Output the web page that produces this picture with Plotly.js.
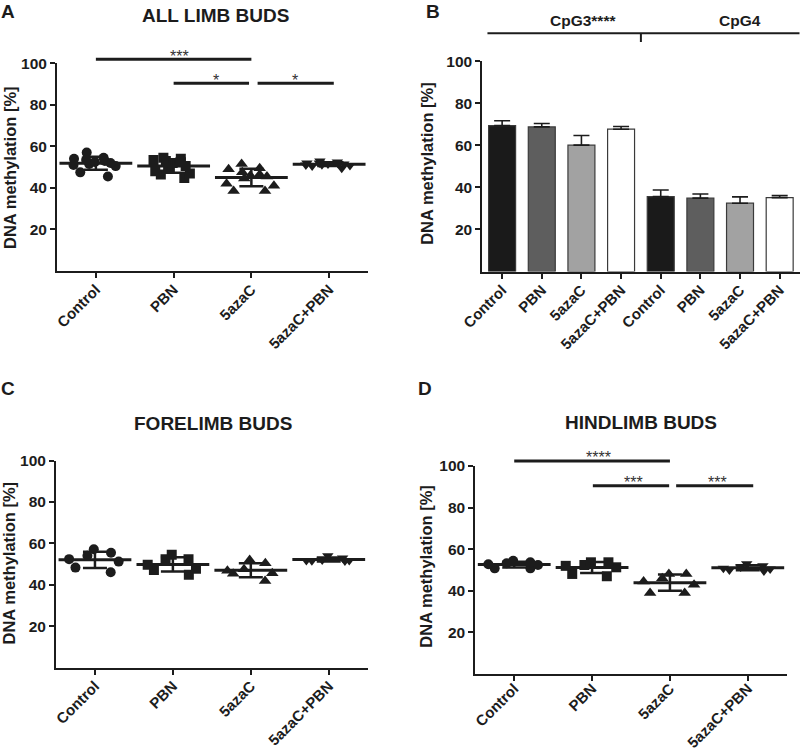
<!DOCTYPE html>
<html><head><meta charset="utf-8">
<script src="https://cdn.plot.ly/plotly-3.0.1.min.js"></script>
<style>html,body{margin:0;padding:0;background:#fff;} #chart{width:800px;height:753px;}</style>
</head><body><div id="chart"></div>
<script>
// ---------- DATA ----------
const groups = ['Control', 'PBN', '5azaC', '5azaC+PBN'];

// Panel A: all limb buds (DNA methylation %)
const allControl  = [57.0, 54.5, 54.0, 53.5, 53.0, 52.5, 52.0, 51.5, 51.0, 50.5, 47.5, 45.5];
const allPBN      = [54.5, 54.0, 53.5, 53.0, 52.5, 52.0, 50.5, 50.0, 48.0, 47.0, 46.5, 44.8];
const all5azaC    = [51.5, 49.5, 49.0, 47.5, 46.5, 46.0, 45.5, 44.5, 42.0, 41.0, 38.5, 38.5];
const all5azaCPBN = [53.0, 52.5, 52.0, 52.0, 51.8, 51.5, 51.5, 51.2, 51.0, 50.8, 50.5, 49.5];

// Panel B: CpG3 / CpG4 means and upper error
const cpgLabels = ['Control', 'PBN', '5azaC', '5azaC+PBN', 'Control', 'PBN', '5azaC', '5azaC+PBN'];
const cpgMean   = [69.4, 68.8, 60.1, 67.7, 35.6, 34.9, 32.5, 35.1];
const cpgErr    = [2.3, 1.6, 4.6, 1.3, 3.2, 2.0, 3.0, 1.0];

// Panel C: forelimb buds
const foreControl  = [57.2, 55.5, 54.0, 52.4, 51.2, 48.3, 46.1];
const forePBN      = [54.5, 52.4, 52.4, 49.7, 47.7, 47.2, 44.9];
const fore5azaC    = [52.0, 50.4, 47.5, 46.8, 45.6, 45.3, 41.8];
const fore5azaCPBN = [54.0, 53.0, 52.0, 51.8, 51.7, 51.6, 51.5];

// Panel D: hindlimb buds
const hindControl  = [54.4, 53.7, 53.2, 52.8, 52.4, 50.8, 50.8];
const hindPBN      = [53.7, 53.7, 52.4, 52.0, 51.3, 48.1, 47.0];
const hind5azaC    = [48.1, 48.1, 46.0, 44.5, 42.9, 38.9, 38.9];
const hind5azaCPBN = [53.0, 52.0, 51.5, 50.8, 50.5, 50.0, 49.5];

const yTicks = [20, 40, 60, 80, 100];

// ---------- HELPERS ----------
const FONT = 'Liberation Sans, Arial, Helvetica, sans-serif';
const INK = '#1c1c1c';
const W = 800, H = 753;
const px = v => v / W;
const py = v => 1 - v / H;

function mean(a) { return a.reduce((s, v) => s + v, 0) / a.length; }
function sd(a) { const m = mean(a); return Math.sqrt(a.reduce((s, v) => s + (v - m) * (v - m), 0) / (a.length - 1)); }

const symbols = ['circle', 'square', 'triangle-up', 'triangle-down'];
const symSize = [10, 10, 11, 10];

function scatterPanel(sets, xa, ya) {
  const traces = [];
  sets.forEach((vals, i) => {
    traces.push({
      type: 'box', x0: i, y: vals, xaxis: xa, yaxis: ya,
      boxpoints: 'all', jitter: 1, pointpos: 0, width: 0.8,
      fillcolor: 'rgba(0,0,0,0)', line: {width: 0, color: 'rgba(0,0,0,0)'},
      marker: {symbol: symbols[i], size: symSize[i], color: INK},
      showlegend: false, hoverinfo: 'y'
    });
  });
  traces.push({
    type: 'scatter', mode: 'markers', xaxis: xa, yaxis: ya,
    x: sets.map((_, i) => i), y: sets.map(mean),
    marker: {symbol: 'line-ew', size: 52, color: INK, line: {width: 3, color: INK}},
    error_y: {type: 'data', array: sets.map(sd), visible: true, width: 12, thickness: 2.5, color: INK},
    showlegend: false, hoverinfo: 'y'
  });
  return traces;
}

const data = [];
data.push(...scatterPanel([allControl, allPBN, all5azaC, all5azaCPBN], 'x', 'y'));
data.push({
  type: 'bar', x: cpgMean.map((_, i) => i), y: cpgMean, xaxis: 'x2', yaxis: 'y2',
  width: 0.68,
  marker: {color: ['#1a1a1a', '#5e5e5e', '#a2a2a2', '#ffffff', '#1a1a1a', '#5e5e5e', '#a2a2a2', '#ffffff'],
           line: {color: '#3a3a3a', width: 1.2}},
  error_y: {type: 'data', symmetric: false, array: cpgErr, arrayminus: cpgErr.map(() => 0),
            visible: true, width: 8, thickness: 1.6, color: INK},
  showlegend: false
});
data.push(...scatterPanel([foreControl, forePBN, fore5azaC, fore5azaCPBN], 'x3', 'y3'));
data.push(...scatterPanel([hindControl, hindPBN, hind5azaC, hind5azaCPBN], 'x4', 'y4'));

function xAxis(domain, anchor, vals, text, range, standoff) {
  return {
    domain: domain, anchor: anchor, range: range, tickmode: 'array', tickvals: vals, ticktext: text,
    tickangle: -45, showline: true, linewidth: 2, linecolor: INK, ticks: 'outside', ticklen: 5,
    tickwidth: 2, tickcolor: INK, showgrid: false, zeroline: false, ticklabelstandoff: standoff,
    tickfont: {family: FONT, size: 15, color: INK, weight: 'bold'}, fixedrange: true
  };
}
function yAxis(domain, anchor) {
  return {
    domain: domain, anchor: anchor, range: [0, 100], tickmode: 'array', tickvals: yTicks,
    showline: true, linewidth: 2, linecolor: INK, ticks: 'outside', ticklen: 5, tickwidth: 2,
    tickcolor: INK, showgrid: false, zeroline: false,
    tickfont: {family: FONT, size: 15.5, color: INK, weight: 'bold'}, fixedrange: true
  };
}

const gIdx = groups.map((_, i) => i);
const layout = {
  width: W, height: H, margin: {l: 0, r: 0, t: 0, b: 0},
  paper_bgcolor: '#fff', plot_bgcolor: 'rgba(0,0,0,0)', showlegend: false,
  font: {family: FONT, color: INK},
  xaxis:  xAxis([px(57), px(368)], 'y', gIdx, groups, [-0.5, 3.5], -3),
  yaxis:  yAxis([py(271), py(63.3)], 'x'),
  xaxis2: xAxis([px(482.3), px(799.5)], 'y2', cpgLabels.map((_, i) => i), cpgLabels, [-0.5, 7.5], -3),
  yaxis2: yAxis([py(271.5), py(61.3)], 'x2'),
  xaxis3: xAxis([px(56), px(367.7)], 'y3', gIdx, groups, [-0.5, 3.5], -3),
  yaxis3: yAxis([py(667.5), py(460.7)], 'x3'),
  xaxis4: xAxis([px(475.3), px(786.7)], 'y4', gIdx, groups, [-0.5, 3.5], -7),
  yaxis4: yAxis([py(674), py(466)], 'x4'),
  shapes: [],
  annotations: []
};

function sigBar(xr, yr, x0, x1, yd) {
  layout.shapes.push({type: 'line', xref: xr, yref: yr + ' domain', x0: x0, x1: x1, y0: yd, y1: yd,
                      line: {color: INK, width: 3}});
}
function stars(xr, yr, x, yd, txt, size) {
  layout.annotations.push({xref: xr, yref: yr + ' domain', x: x, y: yd, text: txt, showarrow: false,
    xanchor: 'center', yanchor: 'middle', font: {family: FONT, size: size, color: '#333'}});
}
function label(x, y, txt, size, angle) {
  layout.annotations.push({xref: 'paper', yref: 'paper', x: px(x), y: py(y), text: txt, showarrow: false,
    xanchor: 'center', yanchor: 'middle', textangle: angle || 0,
    font: {family: FONT, size: size, color: INK, weight: 'bold'}});
}

// Panel A significance
sigBar('x', 'y', 0, 2, 1.019);
sigBar('x', 'y', 1.0, 1.97, 0.904);
sigBar('x', 'y', 2.08, 3.06, 0.904);
stars('x', 'y', 1.07, 1.034, '***', 16);
stars('x', 'y', 1.55, 0.917, '*', 16);
stars('x', 'y', 2.56, 0.917, '*', 16);
// Panel D significance
sigBar('x4', 'y4', 0, 2, 1.024);
sigBar('x4', 'y4', 1.01, 1.99, 0.905);
sigBar('x4', 'y4', 2.08, 3.07, 0.905);
stars('x4', 'y4', 1.08, 1.039, '****', 16);
stars('x4', 'y4', 1.53, 0.92, '***', 16);
stars('x4', 'y4', 2.61, 0.92, '***', 16);

// Panel B bracket
layout.shapes.push({type: 'line', xref: 'x2', yref: 'paper', x0: -0.37, x1: 7.6, y0: py(33.3), y1: py(33.3),
                    line: {color: INK, width: 2}});
layout.shapes.push({type: 'line', xref: 'x2', yref: 'paper', x0: 3.5, x1: 3.5, y0: py(33.3), y1: py(42),
                    line: {color: INK, width: 2}});
label(583, 20.7, 'CpG3****', 15.5);
label(740, 20.7, 'CpG4', 15.5);

// Panel letters and titles
label(8, 11.5, 'A', 19);
label(433, 11.5, 'B', 19);
label(7.5, 388, 'C', 19);
label(424.5, 388, 'D', 19);
label(215.5, 15.8, 'ALL LIMB BUDS', 19);
label(213, 423.3, 'FORELIMB BUDS', 19);
label(640.7, 422.7, 'HINDLIMB BUDS', 19);

// Y axis titles
label(10, 168, 'DNA methylation [%]', 16.5, -90);
label(427.5, 163.3, 'DNA methylation [%]', 16.5, -90);
label(8.5, 563, 'DNA methylation [%]', 16.5, -90);
label(426, 566.7, 'DNA methylation [%]', 16.5, -90);

Plotly.newPlot('chart', data, layout, {staticPlot: true, displayModeBar: false});
</script>
</body></html>
